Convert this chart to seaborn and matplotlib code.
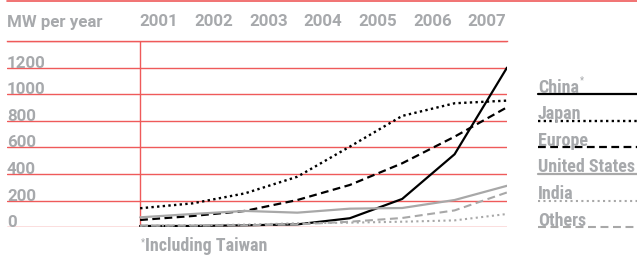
import numpy as np
import pandas as pd
import matplotlib
matplotlib.use("Agg")
import matplotlib.pyplot as plt
import matplotlib.transforms as mtransforms
import seaborn as sns

# ===== DONNEES =====
years = [2000, 2001, 2002, 2003, 2004, 2005, 2006, 2007]
year_labels = ["2001", "2002", "2003", "2004", "2005", "2006", "2007"]
series = ["China", "Japan", "Europe", "United States", "India", "Others"]
china = [10, 10, 15, 22, 68, 213, 549, 1200]
japan = [143, 180, 255, 380, 606, 837, 932, 952]
europe = [55, 85, 123, 205, 318, 481, 681, 902]
usa = [75, 100, 123, 110, 140, 145, 205, 312]
india = [12, 15, 20, 30, 35, 42, 52, 100]
others = [12, 12, 15, 22, 42, 70, 127, 262]
yticks = [0, 200, 400, 600, 800, 1000, 1200, 1400]

df = pd.DataFrame({"year": years, "China": china, "Japan": japan, "Europe": europe,
                   "United States": usa, "India": india, "Others": others})
df = df.melt(id_vars="year", var_name="region", value_name="mw")

# ===== STYLE =====
sns.set_style("white")
plt.rcParams["font.family"] = ["Roboto", "DejaVu Sans"]
RED = "#ef5a5a"
GREY_TXT = "#a7a9ac"
GREY = "#a8a8a8"
styles = {
    "China": dict(color="black", linestyle="-", lw=1.6),
    "Japan": dict(color="black", linestyle=(0, (1, 1.4)), lw=1.7),
    "Europe": dict(color="black", linestyle=(0, (3.5, 2)), lw=1.6),
    "United States": dict(color=GREY, linestyle="-", lw=1.6),
    "India": dict(color=GREY, linestyle=(0, (1, 1.6)), lw=1.5),
    "Others": dict(color=GREY, linestyle=(0, (3.8, 2.2)), lw=1.5),
}

W, H = 637, 258
fig = plt.figure(figsize=(W / 100, H / 100), dpi=100)
ax = fig.add_axes([7 / W, 1 - 227.3 / H, 500 / W, (227.3 - 41) / H])
ax.set_xlim(1997.46, 2007)
ax.set_ylim(0, 1400)

# ===== GRILLE =====
ax.set_yticks(yticks)
ax.set_xticks([])
ax.tick_params(left=False, labelleft=False)
ax.grid(axis="y", color=RED, lw=1)
ax.set_axisbelow(True)
for s in ["left", "right", "bottom"]:
    ax.spines[s].set_visible(False)
ax.spines["top"].set_color(RED)
ax.spines["top"].set_linewidth(1)
ax.axvline(2000, color=RED, lw=1, zorder=1)

# ===== COURBES =====
for name in series:
    sub = df[df["region"] == name]
    st = styles[name]
    sns.lineplot(data=sub, x="year", y="mw", ax=ax, color=st["color"],
                 linestyle=st["linestyle"], lw=st["lw"], zorder=3)
ax.set_xlabel("")
ax.set_ylabel("")

# ===== TEXTES =====
txt = dict(color=GREY_TXT, fontweight="bold", fontsize=12.2)
txt_c = dict(color=GREY_TXT, fontweight="bold", fontsize=13,
             family=["Roboto Condensed", "DejaVu Sans"], fontstretch="condensed")

for v in yticks[:-1]:
    ax.text(0, v, str(v), transform=ax.get_yaxis_transform(), ha="left",
            va="baseline", **txt)

fig.text(7 / W, 1 - 22 / H, "MW per year", ha="left", va="center", **txt)
tr_top = mtransforms.blended_transform_factory(ax.transData, fig.transFigure)
for x, lab in zip(np.linspace(2000.36, 2006.62, len(year_labels)), year_labels):
    ax.text(x, 1 - 22 / H, lab, transform=tr_top, ha="center", va="center", **txt)

# ligne rouge du haut
fig.add_artist(plt.Line2D([7 / W, 1], [1 - 1 / H, 1 - 1 / H], color=RED, lw=1.2,
                          transform=fig.transFigure))

# ===== LEGENDE =====
tr_leg = mtransforms.blended_transform_factory(fig.transFigure, ax.transData)
leg_y = [1000, 800, 600, 400, 200, 0]
for name, yv in zip(series, leg_y):
    st = styles[name]
    ax.plot([538 / W, 1], [yv, yv], transform=tr_leg, clip_on=False,
            color=st["color"], linestyle=st["linestyle"], lw=st["lw"])
    ax.text(538 / W, yv + 12, name, transform=tr_leg, ha="left",
            va="baseline", **txt_c)

# asterisque de China
ax.text(580 / W, 1000 + 80, "*", transform=tr_leg, ha="left", va="baseline",
        color=GREY_TXT, fontsize=7)

# note
fig.text(141 / W, 1 - 242 / H, "*", ha="left", va="center", color=GREY_TXT, fontsize=7)
fig.text(145 / W, 1 - 246 / H, "Including Taiwan", ha="left", va="center", **txt_c)

plt.savefig("out.png", dpi=100)
